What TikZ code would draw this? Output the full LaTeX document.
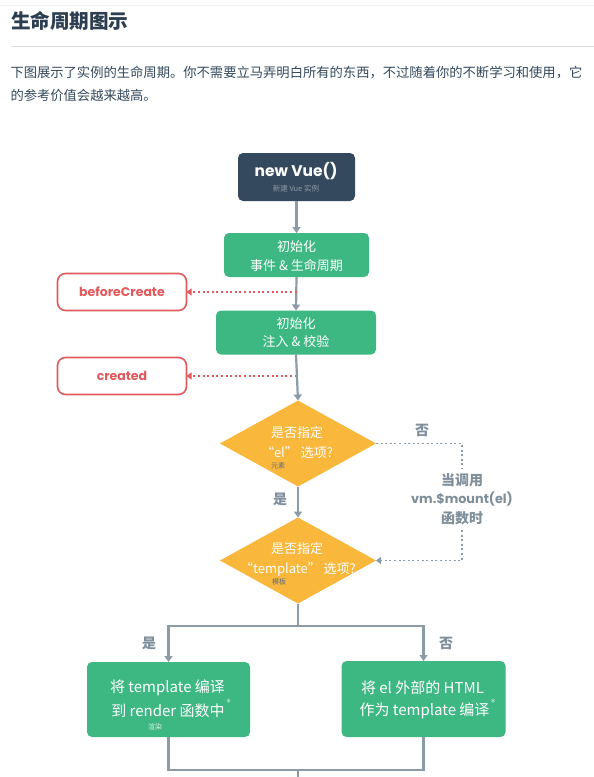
\documentclass[tikz,border=0pt]{standalone}
\usepackage{fontspec}
\usetikzlibrary{arrows.meta,shapes.geometric}
\newfontfamily\cjk{Noto Sans CJK SC}
\newfontfamily\geo{Poppins}
\definecolor{vdark}{HTML}{35495E}
\definecolor{vgreen}{HTML}{3DB882}
\definecolor{vyellow}{HTML}{F9B73B}
\definecolor{vred}{HTML}{E05A5E}
\definecolor{vgray}{HTML}{8C9BA8}
\definecolor{vgtext}{HTML}{7E8E9B}
\definecolor{vtitle}{HTML}{2C3E50}
\definecolor{vpara}{HTML}{34495E}
\begin{document}
\begin{tikzpicture}[x=1pt,y=-1pt,
  every node/.style={inner sep=0pt, outer sep=0pt},
  gbox/.style={rectangle, rounded corners=5pt, fill=vgreen},
  gtext/.style={text=white, font=\cjk\fontsize{13}{16}\selectfont},
  btext/.style={text=white, font=\cjk\fontsize{15}{18}\selectfont},
  rbox/.style={rectangle, rounded corners=8pt, draw=vred, line width=1.6pt, fill=white,
    text=vred, font=\geo\bfseries\fontsize{12.5}{15}\selectfont,
    minimum width=129pt, minimum height=37pt},
  dia/.style={diamond, fill=vyellow, minimum width=156pt, minimum height=86pt},
  dtext/.style={text=white, font=\cjk\fontsize{13}{16}\selectfont},
  tiny/.style={font=\cjk\fontsize{7}{8}\selectfont},
  glabel/.style={text=vgtext, font=\cjk\bfseries\fontsize{14}{17}\selectfont},
  conn/.style={draw=vgray, line width=2.2pt},
  arr/.style={conn, -{Triangle[width=8pt,length=6pt]}},
  dotr/.style={draw=vred, line width=1.7pt, dash pattern=on 2pt off 2.6pt,
    -{Triangle[width=7pt,length=5pt]}},
  dotg/.style={draw=vgray, line width=1.7pt, dash pattern=on 2pt off 2.6pt}
]
\useasboundingbox[fill=white] (0,0) rectangle (594,777);
% page header
\draw[draw=black!5, line width=0.8pt] (0,5) -- (594,5);
\node[anchor=west, text=vtitle, font=\cjk\bfseries\fontsize{19.6}{22}\selectfont] (title) at (11,21) {生命周期图示};
\draw[draw=black!14, line width=1pt] (11,46.5) -- (594,46.5);
\node[anchor=west, text=vpara, font=\cjk\fontsize{13.3}{16}\selectfont] (p1) at (10.5,72.7) {下图展示了实例的生命周期。你不需要立马弄明白所有的东西，不过随着你的不断学习和使用，它};
\node[anchor=west, text=vpara, font=\cjk\fontsize{13.3}{16}\selectfont] (p2) at (10.5,95) {的参考价值会越来越高。};

% new Vue
\node[rectangle, rounded corners=5pt, fill=vdark, minimum width=117pt, minimum height=48pt] (nv) at (296.5,177) {};
\node[text=white, font=\geo\bfseries\fontsize{15.5}{18}\selectfont] (nvt) at (296,171.5) {new Vue()};
\node[text=vgray, font=\cjk\fontsize{7.5}{9}\selectfont] (nvs) at (296,189) {新建 Vue 实例};

% init 1
\node[gbox, minimum width=145pt, minimum height=44pt] (g1) at (296.5,255) {};
\node[gtext] (g1a) at (296.5,247) {初始化};
\node[gtext] (g1b) at (296.5,265.5) {事件 \& 生命周期};
\draw[arr] (nv.south) -- (g1.north);

% init 2
\node[gbox, minimum width=160pt, minimum height=44pt] (g2) at (296,332.5) {};
\node[gtext] (g2a) at (296,323.5) {初始化};
\node[gtext] (g2b) at (296,342) {注入 \& 校验};
\draw[arr] (g1.south) -- (g2.north);

% hooks
\node[rbox] (bc) at (122,292) {beforeCreate};
\node[rbox] (cr) at (122,376) {created};
\coordinate (cb) at (296.5,292);
\coordinate (cc) at (296.5,376);
\draw[dotr] (cb) -- (bc.east);
\draw[dotr] (cc) -- (cr.east);

% diamond 1
\node[dia] (d1) at (298,443.5) {};
\node[dtext] (d1a) at (297,433) {是否指定};
\node[dtext] (d1b) at (297,453) {“el” 选项?};
\node[tiny, text=vdark!80] (d1c) at (278,465.5) {元素};
\draw[arr] (g2.south) -- (d1.north);

% diamond 2
\node[dia] (d2) at (298,560.5) {};
\node[dtext] (d2a) at (297,548.5) {是否指定};
\node[dtext] (d2b) at (298,569.5) {“template” 选项?};
\node[tiny, text=vdark!80] (d2c) at (279,582) {模板};
\draw[arr] (d1.south) -- (d2.north);
\node[glabel] (yes1) at (280,499) {是};

% mount branch
\node[glabel] (no1) at (422,430) {否};
\node[glabel] (mt1) at (462,480) {当调用};
\node[text=vgtext, font=\geo\bfseries\fontsize{12.8}{15}\selectfont] (mt2) at (462,499) {vm.\$mount(el)};
\node[glabel] (mt3) at (462,518) {函数时};
\coordinate (m1) at (462,468);
\coordinate (m2) at (462,530);
\draw[dotg] (d1.east) -| (m1);
\draw[dotg, -{Triangle[width=7pt,length=5pt]}] (m2) |- (d2.east);

% split
\node[gbox, minimum width=163pt, minimum height=75pt] (lb) at (168.5,699.5) {};
\node[gbox, minimum width=164pt, minimum height=76pt] (rb) at (423.5,699) {};
\coordinate (sp) at (298,626);
\draw[conn] (d2.south) -- (sp);
\draw[arr] (sp) -| (lb.north);
\draw[arr] (sp) -| (rb.north);
\node[glabel] (yes2) at (149,643) {是};
\node[glabel] (no2) at (446,643) {否};

\node[btext] (lba) at (167.5,688) {将 template 编译};
\node[btext] (lbb) at (168,711) {到 render 函数中};
\node[text=white, font=\fontsize{10}{11}\selectfont] (lbs) at (228.5,703) {*};
\node[tiny, text=white!80!vgreen] (lbc) at (155,727) {渲染};

\node[btext] (rba) at (422.5,688) {将 el 外部的 HTML};
\node[btext] (rbb) at (424.5,711) {作为 template 编译};
\node[text=white, font=\fontsize{10}{11}\selectfont] (rbs) at (493,703) {*};

% join
\coordinate (bl) at (168.5,770);
\coordinate (br) at (423.5,770);
\coordinate (bm) at (298,770);
\coordinate (be) at (298,778);
\draw[conn] (lb.south) -- (bl) -- (br) -- (rb.south);
\draw[conn] (bm) -- (be);
\end{tikzpicture}
\end{document}
